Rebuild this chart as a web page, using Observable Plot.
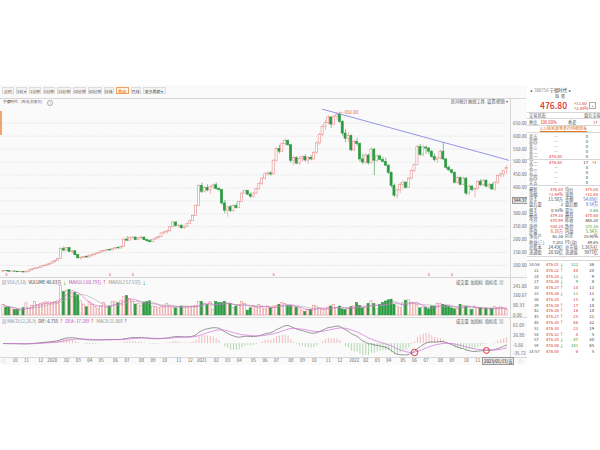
<!DOCTYPE html>
<html><head><meta charset="utf-8">
<script src="https://cdn.jsdelivr.net/npm/d3@7"></script>
<script src="https://cdn.jsdelivr.net/npm/@observablehq/plot@0.6"></script>
<style>
html,body{margin:0;padding:0;background:#fff;}
body{width:600px;height:450px;position:relative;overflow:hidden;font-family:"Noto Sans CJK SC","Noto Sans",sans-serif;color:#333;}
.a{position:absolute;white-space:nowrap;line-height:1;}
#shot{position:absolute;left:0;top:85px;width:600px;height:280px;background:#fafafa;}
.btn{position:absolute;top:87px;height:7px;line-height:6px;font-size:3.9px;text-align:center;background:#f3f3f3;border:0.5px solid #dcdcdc;color:#555;box-sizing:border-box;white-space:nowrap;}
.btn.on{background:#fff3e8;border-color:#f0a060;color:#e07020;}
.hl{position:absolute;height:0;border-top:0.6px solid #d8d8d8;}
.vl{position:absolute;width:0;border-left:0.6px solid #d8d8d8;}
.red{color:#e0302a}.grn{color:#1f9a36}.blu{color:#2f5fd0}.gry{color:#888}.mag{color:#c040c0}
svg{position:absolute;overflow:visible;}
</style></head><body>
<div id="shot"></div>
<div id="root"></div>
<script>
// ---------- weekly candles (前复权) ----------
const firstWeek = "2019-09-06", lastWeek = "2023-01-14";
const opens = [76,79,78,76,77,76,74,75,73,76,81,85,88,91,96,99,101,106,112,117,126,164,158,167,152,155,140,128,130,133,131,138,141,145,148,154,156,160,158,164,168,166,172,200,196,206,208,198,205,208,198,194,190,200,205,210,224,228,232,248,266,252,254,244,250,260,272,292,330,408,385,400,390,402,410,396,392,340,312,325,310,330,322,345,378,388,374,366,378,395,416,436,452,456,452,505,550,540,570,582,565,505,515,494,512,520,506,516,510,536,572,605,636,650,672,645,675,682,655,610,590,600,545,578,570,510,498,525,495,548,505,522,508,500,486,458,408,370,390,412,420,400,436,465,488,558,528,556,552,540,520,508,514,540,510,478,468,458,420,438,412,436,378,405,392,396,424,410,428,405,412,394,420,446,452,472];
const highs = [80,81,79,78,78,77,76,76,77,82,86,90,92,97,101,103,108,114,120,128,170,172,170,169,158,156,142,134,136,138,140,143,146,150,156,158,162,164,166,170,172,175,205,212,210,212,210,208,212,210,202,200,202,208,212,226,232,236,252,272,270,258,256,252,262,275,295,335,412,418,405,412,408,415,420,402,395,352,330,332,335,338,348,385,392,391,380,382,398,420,440,458,462,462,510,556,565,575,590,586,568,525,520,520,525,528,522,525,540,578,612,642,660,680,675,680,692,688,660,625,612,605,585,592,575,530,532,530,556,552,528,526,518,515,490,462,415,395,420,428,425,440,470,492,565,568,565,562,556,545,532,518,545,575,512,485,472,462,445,442,442,438,412,410,400,428,432,432,430,418,418,425,450,458,466,486];
const lows = [75,77,75,74,75,73,73,72,72,75,80,84,86,90,95,96,100,105,110,115,125,152,155,150,146,138,125,120,126,128,130,134,138,142,146,150,153,156,157,160,163,164,170,192,194,200,196,196,202,196,190,188,188,198,203,208,220,222,230,245,248,243,240,240,248,258,270,290,328,378,380,384,375,395,392,385,332,300,287,305,305,318,320,342,374,370,360,362,375,392,410,430,445,445,450,500,532,536,560,560,495,486,490,488,500,500,490,505,506,530,565,598,622,645,630,640,660,650,600,575,575,540,540,560,500,490,490,488,492,448,500,504,496,482,452,400,362,358,378,392,396,398,430,460,485,522,520,530,528,515,500,495,508,505,470,462,452,415,415,408,410,370,372,385,362,390,405,405,400,395,390,388,412,438,440,452];
const closes = [79,78,76,77,76,74,75,73,76,81,85,88,91,96,99,101,106,112,117,126,164,158,167,152,155,140,128,130,133,131,138,141,145,148,154,156,160,158,164,168,166,172,200,196,206,208,198,205,208,198,194,190,200,205,210,224,228,232,248,266,252,254,244,250,260,272,292,330,408,385,400,390,402,410,396,392,340,312,325,310,330,322,345,378,388,374,366,378,395,416,436,452,456,452,505,550,540,570,582,565,505,515,494,512,520,506,516,510,536,572,605,636,650,672,645,675,682,655,610,590,600,545,578,570,510,498,525,495,548,505,522,508,500,486,458,408,370,390,412,420,400,436,465,488,558,528,556,552,540,520,508,514,540,510,478,468,458,420,438,412,436,378,405,392,396,424,410,428,405,412,394,420,446,452,465.2,476.8];
// weekly volume, 万手
const volumes = [88,65,65,50,45,45,39,60,100,55,80,111,88,94,102,108,108,102,111,117,241,193,200,210,182,185,165,117,90,68,108,88,70,51,74,102,65,74,111,108,100,117,150,159,136,117,90,94,79,102,111,117,74,70,60,66,79,97,74,65,59,68,74,74,74,70,74,80,111,111,97,88,108,45,111,102,102,111,94,94,59,74,85,111,95,40,59,79,74,88,70,51,74,59,74,79,88,102,94,79,79,68,65,59,40,28,45,45,79,74,59,48,45,65,74,88,59,74,50,45,59,68,74,102,79,59,65,95,117,94,51,88,102,115,125,130,88,74,59,100,122,125,102,94,88,59,65,62,51,74,74,94,97,88,80,74,59,51,51,88,79,74,74,45,74,59,60,51,55,50,56,70,62,68,57,46.63];

// price axis ticks, volume / MACD axis labels
const priceTicks = [100,150,200,250,300,350,400,450,500,550,600,650];
const volTicks = [0,80.33,160.67,241.00];
const macdTicks = [61.09,26.80,-5.66,-35.72];
// annotations
const trendDates = ["2021-10-22","2023-01-18"];
const trendPrices = [704,507];
const sMarkDates = ["2019-09-13","2020-05-22","2020-07-17","2021-06-25","2022-07-08","2022-09-02"];
const circleDates = ["2022-06-03","2022-11-25"];
const circleValues = [-31,-24];
const circleRadii = [6.5,5.3];

// ---------- build table ----------
const dates = d3.utcFriday.range(new Date(firstWeek), new Date(lastWeek));
const candles = dates.map((date,i)=>({date, open:opens[i], high:highs[i], low:lows[i], close:closes[i], vol:volumes[i]}));
// MACD(12,26,9) from the closes, as the platform computes it
let e12, e26, dea;
candles.forEach((d,i)=>{
  if(i===0){e12=e26=d.close;dea=0;}
  else {e12=e12*11/13+d.close*2/13; e26=e26*25/27+d.close*2/27;}
  d.dif=e12-e26; dea = i===0?0:dea*0.8+d.dif*0.2; d.dea=dea; d.macd=2*(d.dif-d.dea);
});
const trend = trendDates.map((t,i)=>({date:new Date(t), price:trendPrices[i]}));
const sMarks = sMarkDates.map(t=>({date:new Date(t)}));
const circles = circleDates.map((t,i)=>({date:new Date(t), v:circleValues[i], r:circleRadii[i]}));
const peak = d3.greatest(candles, d=>d.high);

const UP="#e58f8f", DN="#2b9b40", UPF="#fff";
const isUp = d=>d.close>=d.open;
const half = 2.55*864e5;
const xDomain=[new Date(+dates[0]-3.5*864e5), new Date(+dates[dates.length-1]+3.5*864e5)];
const FONT='"Noto Sans CJK SC","Noto Sans",sans-serif';
const common = {width:527, marginLeft:1.5, marginRight:19.5, style:{background:"transparent",fontFamily:FONT,fontSize:"4.5px",color:"#666",overflow:"visible"}};
const xHidden = {type:"utc", domain:xDomain, axis:null};

function place(svg, top){ svg.style.left="0px"; svg.style.top=top+"px"; document.getElementById("root").appendChild(svg); }

// main candle chart
const main = Plot.plot({...common, height:173, marginTop:0, marginBottom:0,
  x:xHidden,
  y:{domain:[57.5,726.2], axis:"right", ticks:priceTicks, tickFormat:d=>d.toFixed(2), tickSize:0, tickPadding:5, label:null},
  marks:[
    Plot.gridY(priceTicks,{stroke:"#cfcfcf",strokeOpacity:1,strokeWidth:0.5,strokeDasharray:"1.2,1.2"}),
    Plot.ruleX(candles,{x:"date",y1:"low",y2:"high",stroke:d=>isUp(d)?UP:DN,strokeWidth:0.6}),
    Plot.rect(candles,{x1:d=>new Date(+d.date-half),x2:d=>new Date(+d.date+half),y1:"open",y2:"close",fill:d=>isUp(d)?UPF:DN,stroke:d=>isUp(d)?UP:DN,strokeWidth:0.6}),
    Plot.line(trend,{x:"date",y:"price",stroke:"#7a7adf",strokeWidth:0.8}),
    Plot.text([peak],{x:"date",y:"high",text:d=>"← "+d.high.toFixed(2),textAnchor:"start",dx:2,fill:"#e0603a",fontSize:4.5}),
    Plot.text(sMarks,{x:"date",frameAnchor:"bottom",text:()=>"S",fill:"#e03030",fontSize:4,dy:-1})
  ]});
place(main,103);

// volume chart
const vol = Plot.plot({...common, height:33, marginTop:0, marginBottom:2,
  x:xHidden,
  y:{domain:[0,255], axis:"right", ticks:volTicks, tickFormat:d=>d.toFixed(2), tickSize:0, tickPadding:5, label:null},
  marks:[
    Plot.rect(candles,{x1:d=>new Date(+d.date-half),x2:d=>new Date(+d.date+half),y1:0,y2:"vol",fill:d=>isUp(d)?UPF:DN,stroke:d=>isUp(d)?UP:DN,strokeWidth:0.6}),
    Plot.lineY(candles,Plot.windowY({k:10,anchor:"end"},{x:"date",y:"vol",stroke:"#aaaaaa",strokeWidth:0.6})),
    Plot.lineY(candles,Plot.windowY({k:5,anchor:"end"},{x:"date",y:"vol",stroke:"#d060d0",strokeWidth:0.6}))
  ]});
place(vol,284);

// MACD chart with time axis (the last two month labels sit under the crosshair date box)
const fmt = d=> d.getUTCMonth()===0 ? String(d.getUTCFullYear()) : String(d.getUTCMonth()+1).padStart(2,"0");
const monthTicks = dates.filter((d,i)=> i>0 && d.getUTCMonth()!==dates[i-1].getUTCMonth()).slice(0,-2);
const macd = Plot.plot({...common, height:40, marginTop:0, marginBottom:8,
  x:{type:"utc", domain:xDomain, ticks:monthTicks, tickFormat:fmt, tickSize:0, tickPadding:2, label:null},
  y:{domain:[-45.1,66.3], axis:"right", ticks:macdTicks, tickFormat:d=>d.toFixed(2), tickSize:0, tickPadding:5, label:null},
  marks:[
    Plot.ruleX(candles,{x:"date",y1:0,y2:"macd",stroke:d=>d.macd>=0?"#e8a0a0":"#8fcb8f",strokeWidth:0.7}),
    Plot.line(candles,{x:"date",y:"dif",stroke:"#555",strokeWidth:0.6}),
    Plot.line(candles,{x:"date",y:"dea",stroke:"#d070d8",strokeWidth:0.7}),
    Plot.dot(circles,{x:"date",y:"v",r:"r",stroke:"#e02020",strokeWidth:0.9,fill:"none"})
  ]});
place(macd,324);

// ---------- HTML chrome ----------
const R = document.getElementById("root");
function el(html, style, cls){ const d=document.createElement("div"); d.className="a "+(cls||""); d.innerHTML=html; Object.assign(d.style, style); R.appendChild(d); return d; }
function line(cls, l,t,w,h){ const d=document.createElement("div"); d.className=cls; d.style.left=l+"px"; d.style.top=t+"px"; if(w!=null) d.style.width=w+"px"; if(h!=null) d.style.height=h+"px"; R.appendChild(d); }

// toolbar
const btnNames=["分时","5日 ▾","1分钟","5分钟","15分钟","30分钟","60分钟","日线","周线","月线","更多周期 ▾"];
const btnWidths=[12,11,12,12,13.5,13.5,13.5,10,13,10,23];
let bx=2;
btnNames.forEach((n,i)=>{ const d=document.createElement("div"); d.className="btn"+(n==="周线"?" on":""); d.textContent=n; d.style.left=bx+"px"; d.style.width=btnWidths[i]+"px"; bx+=btnWidths[i]+2; R.appendChild(d); });
line("hl",0,97.5,526);
el("宁德时代",{left:"3px",top:"100.3px",fontSize:"3.7px",color:"#333"});
el("(周线,前复权)",{left:"20.5px",top:"100.3px",fontSize:"3.7px",color:"#777"});
el("i",{left:"47px",top:"100.1px",fontSize:"3.2px",color:"#999",border:"0.5px solid #aaa",borderRadius:"50%",width:"3.8px",height:"3.8px",lineHeight:"3.8px",textAlign:"center"});
el("区间统计",{left:"451px",top:"98.8px",fontSize:"4.2px",color:"#555"});
el("画线工具",{left:"468px",top:"98.8px",fontSize:"4.2px",color:"#555"});
el("设置|帮助 ▾",{left:"487px",top:"98.8px",fontSize:"4.2px",color:"#555"});
el("",{left:"0px",top:"111px",width:"1.6px",height:"24px",background:"#f0a46e"});
// panel borders
line("vl",509.5,97.5,null,262);
line("vl",526.5,85,null,280);
line("hl",0,277,527);
line("hl",0,317,527);
line("hl",0,356.5,527);
// crosshair labels
el("344.37",{left:"511.5px",top:"196.5px",fontSize:"4.4px",background:"#e6e6e6",border:"0.5px solid #999",padding:"0.6px 0.8px",color:"#222"});
el("2023/01/13/五",{left:"482px",top:"357.3px",fontSize:"4.3px",background:"#e6e6e6",border:"0.5px solid #999",padding:"0.5px 1px",color:"#222"});
el("◁",{left:"1px",top:"357.5px",fontSize:"4.5px",color:"#999"});
el("▷",{left:"519px",top:"357.5px",fontSize:"4.5px",color:"#999"});
// volume header
el("<span class='gry'>⊠</span> <span class='gry'>VOL(5,10)</span>&nbsp; VOLUME:46.63万 <span class='grn'>↓</span>&nbsp; <span class='mag'>MAVOL1:60.79万 <span class='red'>↑</span></span>&nbsp; <span class='gry'>MAVOL2:57.53万 <span class='grn'>↓</span></span>",{left:"2px",top:"279.5px",fontSize:"4.3px",color:"#333"});
el("成交量&nbsp; 加指标&nbsp; 指标库&nbsp; <span class='gry'>⊠</span>",{left:"456px",top:"279.5px",fontSize:"4.2px",color:"#555"});
el("<span class='gry'>⊠</span> <span class='gry'>MACD(12,26,9)</span>&nbsp; DIF:-6.755 <span class='red'>↑</span>&nbsp; <span class='mag'>DEA:-17.289 <span class='red'>↑</span></span>&nbsp; <span class='gry'>MACD:21.068 <span class='red'>↑</span></span>",{left:"2px",top:"318.8px",fontSize:"4.3px",color:"#333"});
el("成交量&nbsp; 加指标&nbsp; 指标库&nbsp; <span class='gry'>⊠</span>",{left:"456px",top:"318.8px",fontSize:"4.2px",color:"#555"});

// ---------- right quote panel ----------
el("",{left:"527px",top:"85px",width:"73px",height:"280px",background:"#fff"});
el("◂ &nbsp;<span class='gry'>300750</span> 宁德时代&nbsp; ▸",{left:"530px",top:"88px",fontSize:"4.4px",color:"#333"});
el("融 &nbsp;通",{left:"555px",top:"94px",fontSize:"4px",color:"#666"});
el("476.80",{left:"540px",top:"100.5px",fontSize:"8.6px",color:"#e0302a",fontWeight:"500"});
el("+11.60",{left:"574px",top:"100.8px",fontSize:"4.2px",color:"#e0302a"});
el("+2.49%",{left:"574px",top:"105.6px",fontSize:"4.2px",color:"#e0302a"});
el("+",{left:"589px",top:"101.5px",fontSize:"5px",color:"#888",border:"0.5px solid #aaa",padding:"0 1.2px"});
line("hl",527,111.5,73);
el("交易状态",{left:"529px",top:"113px",fontSize:"4.2px",color:"#555"});
el("盘后交易",{left:"584px",top:"113px",fontSize:"4.2px",color:"#555"});
line("hl",527,118,73);
el("委比 <span class='red'>&nbsp;&nbsp;100.00%</span>",{left:"529px",top:"119.5px",fontSize:"4.2px",color:"#555"});
el("委差",{left:"568px",top:"119.5px",fontSize:"4.2px",color:"#555"});
el("17",{left:"593px",top:"119.5px",fontSize:"4.2px",color:"#e0302a"});
line("hl",527,125,73);
el("(L2)独家逐笔委托明细查看",{left:"540px",top:"126.3px",fontSize:"4px",color:"#e07a20",textDecoration:"underline"});
line("hl",527,132,73);
const bookLabels=["卖五","卖四","卖三","卖二","卖一","买一","买二","买三","买四","买五"];
const bookPrices=["—","—","—","—","476.80","476.80","—","—","—","—"];
const bookVols=["0","0","0","0","0","17","0","0","0","0"];
const bookChg=["","","","","","+1","","","",""];
const bookTops=[133.5,138.5,143.5,148.5,153.5,159.5,164.5,169.5,174.5,179.5];
bookLabels.forEach((lab,i)=>{
  el(lab,{left:"529px",top:bookTops[i]+"px",fontSize:"4.2px",color:"#555"});
  const p=bookPrices[i];
  el(p,{left:(p==="—"?"554px":"549px"),top:bookTops[i]+"px",fontSize:"4.2px",color:p==="—"?"#1f9a36":"#e0302a"});
  el(bookVols[i],{left:"582px",top:bookTops[i]+"px",fontSize:"4.2px",color:"#333",width:"6px",textAlign:"right"});
  if(bookChg[i]) el(bookChg[i],{left:"592px",top:bookTops[i]+"px",fontSize:"4.2px",color:"#e0302a"});
});
line("hl",527,158.5,73);
line("hl",527,185,73);
const statRows=[
 ["最新","476.80","均价","475.08"],
 ["涨幅","+2.49%","涨跌","+11.60"],
 ["总手","11.58万","金额","54.65亿"],
 ["盘后量","2","盘后额","9.54万"],
 ["换手","0.55%","量比","0.66"],
 ["最高","479.38","最低","470.46"],
 ["今开","470.99","昨收","465.20"],
 ["涨停","558.24","跌停","372.16"],
 ["外盘","6.16万","内盘","5.34万"],
 ["净资产","61.36","ROE","15.90%"],
 ["收益(三)","7.202","PE(动)","49.65"],
 ["总股本","24.43亿","总市值","1.16万亿"],
 ["流通股","20.92亿","流通值","9977亿"]];
const statColors=[["#e0302a","#e0302a"],["#e0302a","#e0302a"],["#333","#2f5fd0"],["#333","#2f5fd0"],["#333","#1f9a36"],["#e0302a","#e0302a"],["#e0302a","#333"],["#e0302a","#1f9a36"],["#e0302a","#1f9a36"],["#333","#333"],["#333","#333"],["#333","#333"],["#333","#333"]];
statRows.forEach((r,i)=>{
  const t=186.5+i*5.3;
  el(r[0],{left:"529px",top:t+"px",fontSize:"4.2px",color:"#555"});
  el(r[1],{left:"543px",top:t+"px",fontSize:"4.2px",color:statColors[i][0],width:"20px",textAlign:"right"});
  el(r[2],{left:"565px",top:t+"px",fontSize:"4.2px",color:"#555"});
  el(r[3],{left:"578px",top:t+"px",fontSize:"4.2px",color:statColors[i][1],width:"20px",textAlign:"right"});
});
line("hl",527,256,73);
el("⋯",{left:"561px",top:"255.5px",fontSize:"4px",color:"#999"});
line("hl",527,259.5,73);
const tickTimes=["14:56","21","24","27","30","33","36","39","42","45","48","51","54","57","59","14:57"];
const tickPrices=["476.01","476.22","476.20","476.26","476.27","476.26","476.20","476.26","476.26","476.27","476.30","476.30","476.32","476.20","476.06","476.00"];
const tickDirs=["↓","↑","↓","↓","↑","↓","","↑","↑","↑","↑","","↑","↓","↓",""];
const tickVols=[122,44,13,9,18,11,15,17,16,25,66,23,8,47,141,6];
const tickNums=[36,20,9,8,13,11,8,18,14,21,32,19,5,30,65,5];
tickTimes.forEach((tm,i)=>{
  const t=262+i*5.8;
  el(tm,{left:(tm.length>2?"529px":"534px"),top:t+"px",fontSize:"4.2px",color:"#555"});
  el(tickPrices[i],{left:"546px",top:t+"px",fontSize:"4.2px",color:"#e0302a"});
  if(tickDirs[i]) el(tickDirs[i],{left:"559.5px",top:t+"px",fontSize:"4.2px",color:tickDirs[i]==="↑"?"#e0302a":"#1f9a36"});
  el(String(tickVols[i]),{left:"566px",top:t+"px",fontSize:"4.2px",color:tickDirs[i]==="↓"?"#1f9a36":"#e0302a",width:"12px",textAlign:"right"});
  el(String(tickNums[i]),{left:"584px",top:t+"px",fontSize:"4.2px",color:"#333",width:"10px",textAlign:"right"});
});
</script>
</body></html>
